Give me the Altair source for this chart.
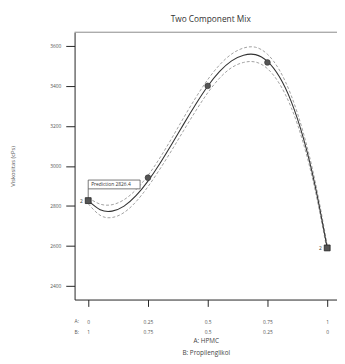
import json
import altair as alt
import pandas as pd

# ---- data ----
curve_a = [0, 0.05, 0.1, 0.15, 0.2, 0.25, 0.3, 0.35, 0.4, 0.45, 0.5,
           0.55, 0.6, 0.65, 0.7, 0.75, 0.8, 0.85, 0.9, 0.95, 1]
curve_y = [2826, 2781, 2774, 2799, 2851, 2924, 3012, 3109, 3210, 3308, 3398,
           3472, 3525, 3553, 3556, 3522, 3445, 3320, 3140, 2898, 2590]
curve_hi = [2841, 2809, 2806, 2831, 2881, 2952, 3040, 3139, 3242, 3341, 3431,
            3505, 3559, 3589, 3593, 3558, 3479, 3350, 3166, 2920, 2605]
curve_lo = [2811, 2753, 2742, 2767, 2821, 2896, 2984, 3079, 3178, 3275, 3365,
            3439, 3491, 3517, 3519, 3486, 3411, 3290, 3114, 2876, 2575]

pts_a = [0.25, 0.5, 0.75]
pts_y = [2941, 3400, 3517]

rep_a = [0, 1]
rep_y = [2826.4, 2590]
rep_n = ["2", "2"]

pred_a = 0
pred_y = 2826.4
pred_text = "Prediction  2826.4"

tick_a = [0, 0.25, 0.5, 0.75, 1]
tick_a_lab = ["0", "0.25", "0.5", "0.75", "1"]
tick_b = ["1", "0.75", "0.5", "0.25", "0"]
y_ticks = [2400, 2600, 2800, 3000, 3200, 3400, 3600]

W, H = 268, 273
FONT = "Open Sans"
Y_TITLE = "Viskositas (cPs)"
X_TITLE = ["A: HPMC", "B: Propilenglikol"]

curve = pd.DataFrame({"a": curve_a, "y": curve_y, "hi": curve_hi, "lo": curve_lo})
pts = pd.DataFrame({"a": pts_a, "y": pts_y})
reps = pd.DataFrame({"a": rep_a, "y": rep_y, "n": rep_n})
pred = pd.DataFrame({"a": [pred_a], "y": [pred_y], "t": [pred_text]})

idx = "indexof(" + json.dumps(tick_a) + ", datum.value)"
label_expr = ("[" + json.dumps(tick_a_lab) + "[" + idx + "], "
              + json.dumps(tick_b) + "[" + idx + "]]")

xs = alt.Scale(domain=[-0.057, 1.041], nice=False, zero=False)
ys = alt.Scale(domain=[2332, 3668], nice=False, zero=False)

x_axis = alt.Axis(values=tick_a, labelExpr=label_expr, grid=False, tickSize=7,
                  tickColor="#222", domainColor="#222", labelFontSize=5,
                  labelColor="#555", labelPadding=13, labelLineHeight=11,
                  titleFontSize=6.5,
                  titleFontWeight="normal", titleColor="#444", titleLineHeight=12,
                  titlePadding=3, labelFont=FONT, titleFont=FONT)
y_axis = alt.Axis(values=y_ticks, format="d", grid=False, tickSize=9, tickColor="#222",
                  domainColor="#222", labelFontSize=5, labelColor="#555",
                  labelPadding=5, titleFontSize=6,
                  titleFontWeight="normal", titleColor="#555", titleX=-63,
                  titleY=H / 2, titleAlign="center", titleBaseline="middle",
                  labelFont=FONT, titleFont=FONT)


def X(field):
    return alt.X(field, scale=xs, axis=x_axis, title=X_TITLE)


def Y(field):
    return alt.Y(field, scale=ys, axis=y_axis, title=Y_TITLE)


base = alt.Chart(curve)

main = base.mark_line(color="#333", strokeWidth=1.1, interpolate="natural").encode(
    x=X("a:Q"), y=Y("y:Q"))
hi = base.mark_line(color="#888", strokeWidth=0.8, strokeDash=[3, 2],
                    interpolate="natural").encode(x=X("a:Q"), y=Y("hi:Q"))
lo = base.mark_line(color="#888", strokeWidth=0.8, strokeDash=[3, 2],
                    interpolate="natural").encode(x=X("a:Q"), y=Y("lo:Q"))

circles = alt.Chart(pts).mark_point(shape="circle", filled=True, size=34,
                                    color="#555", stroke="#333", strokeWidth=0.6,
                                    opacity=1).encode(x=X("a:Q"), y=Y("y:Q"))

squares = alt.Chart(reps).mark_square(size=36, color="#555", stroke="#222",
                                      strokeWidth=0.8, opacity=1).encode(
    x=X("a:Q"), y=Y("y:Q"))
sq_lab = alt.Chart(reps).mark_text(fontSize=5, color="#333", dx=-7, align="center",
                                   baseline="middle", font=FONT).encode(
    x=X("a:Q"), y=Y("y:Q"), text="n:N")

pbox = alt.Chart(pred).mark_rect(fill="white", stroke="#555", strokeWidth=0.8,
                                 x2Offset=53, yOffset=-21, y2Offset=-12).encode(
    x=X("a:Q"), x2="a:Q", y=Y("y:Q"), y2="y:Q")
pline = alt.Chart(pred).mark_rule(color="#555", strokeWidth=0.8,
                                  yOffset=-12, y2Offset=-3).encode(
    x=X("a:Q"), y=Y("y:Q"), y2="y:Q")
ptext = alt.Chart(pred).mark_text(fontSize=5, color="#333", align="left",
                                  baseline="middle", dx=3, dy=-16.5, font=FONT).encode(
    x=X("a:Q"), y=Y("y:Q"), text="t:N")

top_rule = alt.Chart(pred).mark_rule(color="#888", strokeWidth=1).encode(
    x=alt.value(0), x2=alt.value(W), y=alt.value(0))

prefA = alt.Chart(pred).mark_text(fontSize=5, color="#555", align="left",
                                  baseline="top", font=FONT).encode(
    x=alt.value(0), y=alt.value(H + 20), text=alt.value("A:"))
prefB = alt.Chart(pred).mark_text(fontSize=5, color="#555", align="left",
                                  baseline="top", font=FONT).encode(
    x=alt.value(0), y=alt.value(H + 31), text=alt.value("B:"))

chart = alt.layer(hi, lo, main, circles, pbox, pline, ptext, squares, sq_lab,
                  top_rule, prefA, prefB).properties(
    width=W, height=H,
    title=alt.Title("Two Component Mix", fontSize=8.5, fontWeight="normal",
                    color="#333", font=FONT, offset=8, dx=5),
    autosize=alt.AutoSizeParams(type="none"),
    padding={"left": 68, "top": 21, "right": 0, "bottom": 58},
).configure_view(stroke=None)

chart.save("out.html", embed_options={"renderer": "svg", "actions": False})
